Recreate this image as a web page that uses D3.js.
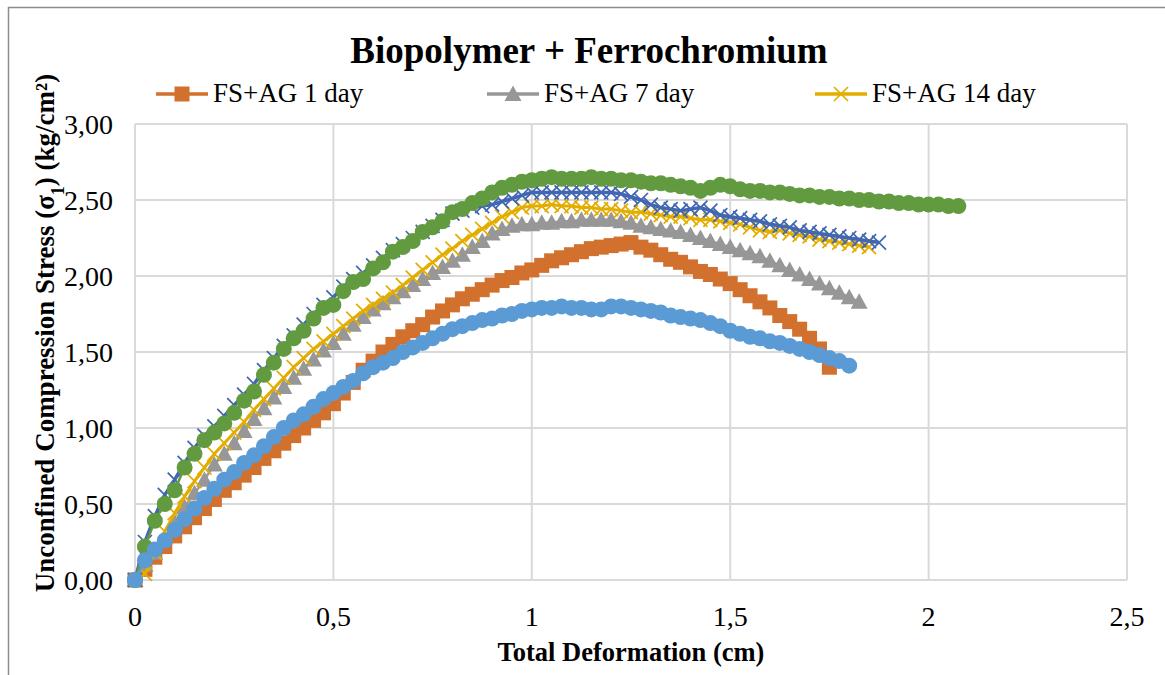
<!DOCTYPE html>
<html>
<head>
<meta charset="utf-8">
<script src="https://cdn.jsdelivr.net/npm/d3@7"></script>
<style>
  body { margin: 0; background: #fff; }
  text { font-family: "Liberation Serif", "Times New Roman", serif; fill: #000; }
</style>
</head>
<body>
<svg class="chart"></svg>
<script>
// deformation readings (cm), one every 0.025 cm
var deformation = [0,0.025,0.05,0.075,0.1,0.125,0.15,0.175,0.2,0.225,0.25,0.275,0.3,0.325,0.35,0.375,0.4,0.425,0.45,0.475,
  0.5,0.525,0.55,0.575,0.6,0.625,0.65,0.675,0.7,0.725,0.75,0.775,0.8,0.825,0.85,0.875,0.9,0.925,0.95,0.975,
  1,1.025,1.05,1.075,1.1,1.125,1.15,1.175,1.2,1.225,1.25,1.275,1.3,1.325,1.35,1.375,1.4,1.425,1.45,1.475,
  1.5,1.525,1.55,1.575,1.6,1.625,1.65,1.675,1.7,1.725,1.75,1.775,1.8,1.825,1.85,1.875,1.9,1.925,1.95,1.975,
  2,2.025,2.05,2.075];

var stress1Day = [0.00,0.07,0.15,0.22,0.29,0.35,0.41,0.47,0.53,0.59,
  0.64,0.69,0.74,0.80,0.85,0.90,0.95,1.00,1.05,1.10,
  1.16,1.23,1.30,1.38,1.44,1.50,1.55,1.60,1.64,1.68,
  1.73,1.77,1.81,1.85,1.88,1.91,1.94,1.97,1.99,2.02,
  2.04,2.07,2.10,2.12,2.14,2.16,2.18,2.19,2.20,2.21,
  2.22,2.19,2.17,2.14,2.11,2.09,2.06,2.03,2.01,1.98,
  1.95,1.91,1.87,1.83,1.79,1.74,1.70,1.65,1.59,1.52,
  1.40];

var stress7Day = [0.00,0.10,0.18,0.28,0.38,0.48,0.57,0.66,0.76,0.83,
  0.90,0.98,1.06,1.13,1.20,1.27,1.33,1.39,1.45,1.51,
  1.56,1.62,1.68,1.73,1.78,1.82,1.86,1.90,1.94,1.98,
  2.02,2.06,2.10,2.14,2.19,2.23,2.28,2.31,2.33,2.34,
  2.34,2.35,2.35,2.36,2.36,2.37,2.37,2.37,2.37,2.36,
  2.35,2.33,2.32,2.31,2.30,2.29,2.27,2.25,2.23,2.21,
  2.19,2.17,2.15,2.13,2.10,2.07,2.04,2.01,1.98,1.95,
  1.92,1.89,1.86,1.83];

var stress14Day = [0.00,0.04,0.18,0.32,0.44,0.55,0.65,0.74,0.83,0.90,
  0.97,1.04,1.12,1.19,1.26,1.33,1.40,1.46,1.52,1.57,
  1.62,1.67,1.72,1.77,1.81,1.85,1.89,1.94,1.99,2.04,
  2.09,2.14,2.18,2.23,2.27,2.31,2.35,2.39,2.42,2.45,
  2.46,2.46,2.47,2.46,2.46,2.45,2.45,2.44,2.44,2.43,
  2.42,2.42,2.41,2.40,2.39,2.39,2.38,2.37,2.37,2.36,
  2.35,2.34,2.32,2.30,2.29,2.30,2.28,2.27,2.26,2.24,
  2.23,2.22,2.21,2.20,2.19];

// series without a legend entry
var stressLightBlue = [0.00,0.13,0.20,0.26,0.33,0.40,0.47,0.54,0.60,0.66,
  0.71,0.77,0.82,0.88,0.94,1.00,1.05,1.09,1.14,1.19,
  1.23,1.27,1.31,1.36,1.40,1.43,1.46,1.50,1.53,1.56,
  1.59,1.62,1.65,1.67,1.69,1.71,1.72,1.74,1.75,1.77,
  1.78,1.79,1.79,1.80,1.79,1.79,1.78,1.78,1.80,1.80,
  1.79,1.78,1.77,1.76,1.74,1.73,1.72,1.71,1.69,1.67,
  1.64,1.62,1.60,1.59,1.57,1.56,1.54,1.52,1.50,1.48,
  1.46,1.44,1.41];

var stressDarkBlue = [0.00,0.25,0.42,0.56,0.66,0.77,0.87,0.95,1.01,1.08,
  1.15,1.22,1.29,1.38,1.46,1.54,1.61,1.68,1.75,1.81,
  1.86,1.93,1.98,2.02,2.07,2.12,2.17,2.21,2.25,2.29,
  2.33,2.37,2.41,2.43,2.45,2.46,2.47,2.49,2.51,2.53,
  2.55,2.55,2.55,2.55,2.55,2.55,2.55,2.55,2.55,2.54,
  2.52,2.50,2.47,2.45,2.44,2.43,2.44,2.45,2.43,2.40,
  2.39,2.38,2.37,2.36,2.34,2.33,2.32,2.30,2.29,2.28,
  2.27,2.26,2.25,2.24,2.23,2.22];

var stressGreen = [0.00,0.22,0.39,0.50,0.59,0.74,0.83,0.92,0.97,1.03,
  1.10,1.18,1.24,1.35,1.43,1.52,1.59,1.64,1.72,1.79,
  1.81,1.90,1.96,1.98,2.05,2.09,2.16,2.19,2.23,2.29,
  2.32,2.36,2.42,2.44,2.48,2.51,2.55,2.58,2.60,2.62,
  2.63,2.64,2.65,2.64,2.64,2.64,2.65,2.64,2.64,2.63,
  2.63,2.62,2.61,2.61,2.60,2.59,2.58,2.56,2.58,2.60,
  2.59,2.57,2.56,2.56,2.55,2.55,2.54,2.53,2.53,2.52,
  2.52,2.51,2.51,2.50,2.50,2.49,2.49,2.48,2.48,2.47,
  2.47,2.47,2.46,2.46];

var legendNames = ["FS+AG 1 day", "FS+AG 7 day", "FS+AG 14 day"];
var xTicks = [0, 0.5, 1, 1.5, 2, 2.5];
var xTickLabels = ["0", "0,5", "1", "1,5", "2", "2,5"];
var yTicks = [0, 0.5, 1, 1.5, 2, 2.5, 3];
var yTickLabels = ["0,00", "0,50", "1,00", "1,50", "2,00", "2,50", "3,00"];

var width = 1165, height = 675;
var margin = {top: 124, right: 38, bottom: 95, left: 135};
var chartWidth = width - margin.left - margin.right;
var chartHeight = height - margin.top - margin.bottom;

var svg = d3.select(".chart").attr("width", width).attr("height", height);

// outer frame
svg.append("rect").attr("x", 8.5).attr("y", 7.5).attr("width", 1200).attr("height", 700)
  .attr("fill", "none").attr("stroke", "#8c8c8c").attr("stroke-width", 1.5);

var x = d3.scaleLinear().domain([0, 2.5]).range([0, chartWidth]);
var y = d3.scaleLinear().domain([0, 3]).range([chartHeight, 0]);

var chart = svg.append("g").attr("transform", "translate(" + margin.left + "," + margin.top + ")");

// grid
chart.selectAll(".hgrid").data(yTicks).enter().append("line")
  .attr("x1", 0).attr("x2", chartWidth)
  .attr("y1", function(d) { return y(d); }).attr("y2", function(d) { return y(d); })
  .attr("stroke", "#d9d9d9").attr("stroke-width", 2);
chart.selectAll(".vgrid").data(xTicks).enter().append("line")
  .attr("y1", 0).attr("y2", chartHeight)
  .attr("x1", function(d) { return x(d); }).attr("x2", function(d) { return x(d); })
  .attr("stroke", "#d9d9d9").attr("stroke-width", 2);

// tick labels
chart.selectAll(".ylab").data(yTicks).enter().append("text")
  .attr("x", -22).attr("y", function(d) { return y(d) + 9.5; })
  .attr("text-anchor", "end").style("font-size", "28px")
  .text(function(d, i) { return yTickLabels[i]; });
chart.selectAll(".xlab").data(xTicks).enter().append("text")
  .attr("x", function(d) { return x(d); }).attr("y", chartHeight + 46)
  .attr("text-anchor", "middle").style("font-size", "28px")
  .text(function(d, i) { return xTickLabels[i]; });

// titles
svg.append("text").attr("x", 589).attr("y", 63).attr("text-anchor", "middle")
  .style("font-size", "37px").style("font-weight", "bold").text("Biopolymer + Ferrochromium");
svg.append("text").attr("x", 631).attr("y", 661).attr("text-anchor", "middle")
  .style("font-size", "26.5px").style("font-weight", "bold").text("Total Deformation (cm)");
var yTitle = svg.append("text").attr("transform", "translate(54,333) rotate(-90)")
  .attr("text-anchor", "middle").style("font-size", "27px").style("font-weight", "bold");
yTitle.append("tspan").text("Unconfined Compression Stress (σ");
yTitle.append("tspan").attr("baseline-shift", "sub").style("font-size", "18px").text("1");
yTitle.append("tspan").text(") (kg/cm²)");

// series
function pts(values) {
  return values.map(function(v, i) { return [deformation[i], v]; });
}
var series = [
  {values: stress1Day, color: "#d2702d", marker: "square", lineWidth: 2.5},
  {values: stress7Day, color: "#979797", marker: "triangle", lineWidth: 2.5},
  {values: stress14Day, color: "#e3ad00", marker: "x", lineWidth: 3},
  {values: stressDarkBlue, color: "#4267b2", marker: "x", lineWidth: 3.5},
  {values: stressGreen, color: "#629b3f", marker: "circle", lineWidth: 2.5},
  {values: stressLightBlue, color: "#5b9bd5", marker: "circle", lineWidth: 2.5}
];

var line = d3.line().x(function(d) { return x(d[0]); }).y(function(d) { return y(d[1]); });

function drawMarker(g, type, color, cx, cy) {
  if (type === "square") {
    g.append("rect").attr("x", cx - 7.5).attr("y", cy - 7.5).attr("width", 15).attr("height", 15).attr("fill", color);
  } else if (type === "triangle") {
    g.append("path").attr("d", "M" + cx + "," + (cy - 8.5) + "L" + (cx + 8.5) + "," + (cy + 7) + "L" + (cx - 8.5) + "," + (cy + 7) + "Z").attr("fill", color);
  } else if (type === "circle") {
    g.append("circle").attr("cx", cx).attr("cy", cy).attr("r", 8).attr("fill", color);
  } else {
    g.append("path").attr("d", "M" + (cx - 7) + "," + (cy - 7) + "L" + (cx + 7) + "," + (cy + 7) + "M" + (cx - 7) + "," + (cy + 7) + "L" + (cx + 7) + "," + (cy - 7))
      .attr("stroke", color).attr("stroke-width", 1.75).attr("fill", "none");
  }
}

series.forEach(function(s) {
  var data = pts(s.values);
  var g = chart.append("g");
  g.append("path").datum(data).attr("d", line).attr("fill", "none")
    .attr("stroke", s.color).attr("stroke-width", s.lineWidth).attr("stroke-linejoin", "round");
  data.forEach(function(d) { drawMarker(g, s.marker, s.color, x(d[0]), y(d[1])); });
});

// legend
var legendX = [156, 487, 815];
legendNames.forEach(function(name, i) {
  var lg = svg.append("g");
  lg.append("line").attr("x1", legendX[i]).attr("x2", legendX[i] + 52).attr("y1", 94).attr("y2", 94)
    .attr("stroke", series[i].color).attr("stroke-width", 3.5);
  drawMarker(lg, series[i].marker, series[i].color, legendX[i] + 26, 94);
  lg.append("text").attr("x", legendX[i] + 57).attr("y", 102).style("font-size", "27px").text(name);
});
</script>
</body>
</html>
